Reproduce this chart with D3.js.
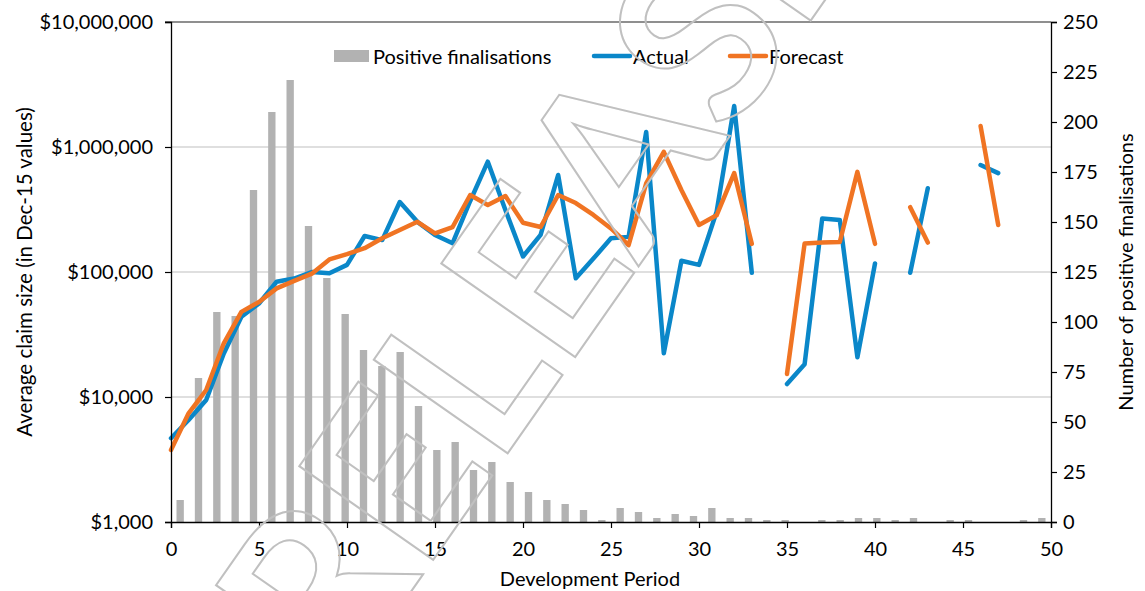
<!DOCTYPE html>
<html>
<head>
<meta charset="utf-8">
<script src="https://cdn.jsdelivr.net/npm/d3@7"></script>
<style>
  body { margin: 0; background: #fff; }
  text { font-family: Lato, "Open Sans", sans-serif; fill: #000; }
</style>
</head>
<body>
<svg id="chart" width="1145" height="591"></svg>
<script>
// Development periods for the claim-size lines and for the count bars
const periods = d3.range(0, 51);
const barPeriods = d3.range(0, 48);

// Number of positive finalisations per development period
const finalisations = [11, 72, 105, 103, 166, 205, 221, 148, 122, 104, 86, 78, 85, 58, 36, 40,
  26, 30, 20, 15, 11, 9, 6, 1, 7, 5, 2, 4, 3, 7, 2, 2, 1, 1, 0, 1, 1, 2, 2, 1, 2, 0, 1, 1, 0, 0, 1, 2];

// Average claim size, actual (Dec-15 values); null where no claims finalised
const actual = [4680, 6550, 9460, 22300, 43900, 56000, 83600, 88700, 100000, 97600, 114000,
  194000, 180000, 363000, 252000, 198000, 170000, 370000, 763000, 313000, 133000,
  198000, 597000, 89000, 128000, 186000, 191000, 1320000, 22400, 123000, 114000,
  303000, 2130000, 98600, null, 12700, 18300, 268000, 261000, 20800, 117000,
  null, 98600, 468000, null, null, 718000, 618000, null, null, null];

// Average claim size, forecast
const forecast = [3770, 7400, 11380, 26900, 48000, 57600, 74000, 85000, 97000, 126000, 139000,
  155000, 186000, 217000, 252000, 204000, 229000, 413000, 344000, 405000, 248000,
  229000, 413000, 356000, 286000, 223000, 164000, 512000, 915000, 453000, 238000,
  284000, 618000, 168000, null, 15300, 169000, 172000, 174000, 632000, 168000,
  null, 330000, 172000, null, null, 1470000, 238000, null, null, null];

const leftTicks = [1000, 10000, 100000, 1000000, 10000000];
const rightTicks = d3.range(0, 251, 25);
const xTicks = d3.range(0, 51, 5);

const colors = { bar: "#b2b2b2", actual: "#0a87c9", forecast: "#f07423", grid: "#d4d4d4" };
const fontSize = 20;

const svg = d3.select("#chart");
const plot = { left: 171, right: 1051, top: 22, bottom: 522 };

const x = d3.scaleLinear().domain([0, 50]).range([plot.left, plot.right]);
const xBand = d3.scaleBand().domain(barPeriods).range([plot.left, plot.right])
  .paddingInner(0.6).paddingOuter(0.3);
const yLeft = d3.scaleLog().domain([1000, 10000000]).range([plot.bottom, plot.top]);
const yRight = d3.scaleLinear().domain([0, 250]).range([plot.bottom, plot.top]);

// Horizontal gridlines at each decade
svg.append("g").selectAll("line").data(leftTicks.slice(1, -1)).join("line")
  .attr("x1", plot.left).attr("x2", plot.right)
  .attr("y1", d => yLeft(d)).attr("y2", d => yLeft(d))
  .attr("stroke", colors.grid).attr("stroke-width", 1.3);
svg.append("line")
  .attr("x1", plot.left - 6).attr("x2", plot.right)
  .attr("y1", yLeft(10000000)).attr("y2", yLeft(10000000))
  .attr("stroke", "#6a6a6a").attr("stroke-width", 1.3);

// Count bars on the secondary axis
svg.append("g").selectAll("rect").data(barPeriods).join("rect")
  .attr("x", d => xBand(d))
  .attr("width", xBand.bandwidth())
  .attr("y", d => yRight(finalisations[d]))
  .attr("height", d => plot.bottom - yRight(finalisations[d]))
  .attr("fill", colors.bar);

// Claim size lines, broken where no value exists
const lineGen = d3.line()
  .defined(d => d[1] != null)
  .x(d => x(d[0]))
  .y(d => yLeft(d[1]));

[[actual, colors.actual], [forecast, colors.forecast]].forEach(([vals, col]) => {
  svg.append("path")
    .datum(periods.map(p => [p, vals[p]]))
    .attr("d", lineGen)
    .attr("fill", "none")
    .attr("stroke", col)
    .attr("stroke-width", 4.5)
    .attr("stroke-linejoin", "round")
    .attr("stroke-linecap", "round");
});

// Axes
const fmtMoney = d => "$" + d3.format(",")(d);
const axisL = svg.append("g").attr("transform", `translate(${plot.left},0)`)
  .call(d3.axisLeft(yLeft).tickValues(leftTicks).tickFormat(fmtMoney).tickSizeOuter(0).tickSize(6).tickPadding(12));
const axisR = svg.append("g").attr("transform", `translate(${plot.right},0)`)
  .call(d3.axisRight(yRight).tickValues(rightTicks).tickSizeOuter(0).tickSize(6).tickPadding(6));
const axisB = svg.append("g").attr("transform", `translate(0,${plot.bottom})`)
  .call(d3.axisBottom(x).tickValues(xTicks).tickSizeOuter(0).tickSize(6).tickPadding(14));

[axisL, axisR, axisB].forEach(g => {
  g.select(".domain").attr("stroke", "#000").attr("stroke-width", 1.3);
  g.selectAll(".tick line").attr("stroke", "#000").attr("stroke-width", 1.2);
  g.selectAll(".tick text").attr("font-size", fontSize).attr("font-family", "Lato, sans-serif").attr("fill", "#000");
});

// Axis titles
svg.append("text")
  .attr("transform", `translate(24,${(plot.top + plot.bottom) / 2}) rotate(-90)`)
  .attr("text-anchor", "middle").attr("dominant-baseline", "central")
  .attr("font-size", 20.5)
  .text("Average claim size (in Dec-15 values)");
svg.append("text")
  .attr("transform", `translate(1125,${(plot.top + plot.bottom) / 2}) rotate(-90)`)
  .attr("text-anchor", "middle").attr("dominant-baseline", "central")
  .attr("font-size", fontSize)
  .text("Number of positive finalisations");
svg.append("text")
  .attr("x", 590).attr("y", 578)
  .attr("text-anchor", "middle").attr("dominant-baseline", "central")
  .attr("font-size", fontSize)
  .text("Development Period");

// Legend
const legendItems = [
  { label: "Positive finalisations", type: "bar", color: colors.bar, x: 334 },
  { label: "Actual", type: "line", color: colors.actual, x: 594 },
  { label: "Forecast", type: "line", color: colors.forecast, x: 730 }
];
const legend = svg.append("g");
legendItems.forEach(it => {
  if (it.type === "bar") {
    legend.append("rect").attr("x", it.x).attr("y", 50).attr("width", 35).attr("height", 12).attr("fill", it.color);
  } else {
    legend.append("line").attr("x1", it.x).attr("x2", it.x + 36).attr("y1", 56).attr("y2", 56)
      .attr("stroke", it.color).attr("stroke-width", 4.5).attr("stroke-linecap", "round");
  }
  legend.append("text").attr("x", it.x + 39).attr("y", 56)
    .attr("dominant-baseline", "central").attr("font-size", fontSize).text(it.label);
});

// Outlined document watermark running diagonally across the page
svg.append("text")
  .attr("transform", "translate(339.4,693.7) rotate(-55)")
  .attr("font-family", "Liberation Sans, Arial, sans-serif")
  .attr("font-weight", "bold")
  .attr("font-size", 226)
  .style("fill", "none")
  .attr("stroke", "#c0c0c0").attr("stroke-width", 2)
  .text("RELEASED");
</script>
</body>
</html>
